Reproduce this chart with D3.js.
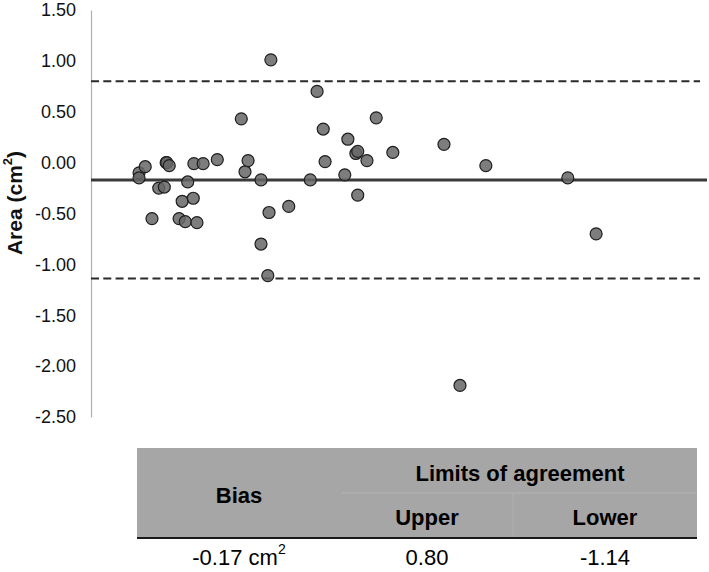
<!DOCTYPE html>
<html>
<head>
<meta charset="utf-8">
<script src="https://cdn.jsdelivr.net/npm/d3@7"></script>
<style>
  body { margin: 0; background: #fff; }
  svg text { font-family: "Liberation Sans", Arial, sans-serif; }
</style>
</head>
<body>
<div id="chart"></div>
<script>
// mean of the two measurements (x) and their difference in cm2 (y)
var meanVals = [0.78, 0.88, 0.78, 0.99, 1.10, 1.19, 1.22, 1.23, 1.27, 1.43,
  1.48, 1.53, 1.57, 1.66, 1.67, 1.72, 1.82, 2.05, 2.44, 2.50,
  2.55, 2.76, 2.76, 2.87, 2.89, 2.92, 3.21, 3.56, 3.67, 3.77,
  3.80, 4.12, 4.17, 4.30, 4.33, 4.33, 4.48, 4.63, 4.90, 5.73,
  5.99, 6.41, 7.74, 8.20];
var diffVals = [-0.10, -0.04, -0.15, -0.55, -0.25, -0.24, 0.00, 0.00, -0.03, -0.55,
  -0.38, -0.58, -0.19, -0.35, -0.01, -0.59, -0.01, 0.03, 0.43, -0.09,
  0.02, -0.17, -0.80, -1.11, -0.49, 1.01, -0.43, -0.17, 0.70, 0.33,
  0.01, -0.12, 0.23, 0.09, 0.11, -0.32, 0.02, 0.44, 0.10, 0.18,
  -2.19, -0.03, -0.15, -0.70];

var yTicks = [1.5, 1.0, 0.5, 0.0, -0.5, -1.0, -1.5, -2.0, -2.5];
var statNames = ["Bias", "Upper", "Lower"];
var statVals = [-0.17, 0.80, -1.14];

var width = 709, height = 572;
var svg = d3.select("#chart").append("svg")
  .attr("width", width)
  .attr("height", height);

var x = d3.scaleLinear().domain([0, 10]).range([91, 707]);
var y = d3.scaleLinear().domain([-2.5, 1.5]).range([417, 10]);

// y axis, no tick marks
var yAxis = svg.append("g")
  .attr("transform", "translate(" + x(0) + ",0)")
  .call(d3.axisLeft(y).tickValues(yTicks).tickSize(0).tickPadding(15)
    .tickFormat(function(d){ return d.toFixed(2); }));
yAxis.select(".domain").attr("stroke", "#b0b0b0").attr("stroke-width", 1.2);
yAxis.selectAll("text").attr("font-size", 18).attr("fill", "#111");

svg.append("text")
  .attr("transform", "translate(16,203) rotate(-90)")
  .attr("text-anchor", "middle")
  .attr("dominant-baseline", "middle")
  .attr("font-size", 21)
  .attr("font-weight", "bold")
  .attr("fill", "#111")
  .html('Area (cm<tspan dy="-7" font-size="13">2</tspan><tspan dy="7">)</tspan>');

// limits of agreement and bias lines
svg.append("line")
  .attr("x1", x(0)).attr("x2", 700)
  .attr("y1", y(statVals[1])).attr("y2", y(statVals[1]))
  .attr("stroke", "#2a2a2a").attr("stroke-width", 2)
  .attr("stroke-dasharray", "8,4.3");
svg.append("line")
  .attr("x1", x(0)).attr("x2", 700)
  .attr("y1", y(statVals[2])).attr("y2", y(statVals[2]))
  .attr("stroke", "#2a2a2a").attr("stroke-width", 2)
  .attr("stroke-dasharray", "8,4.3");
svg.append("line")
  .attr("x1", x(0)).attr("x2", x(10))
  .attr("y1", y(statVals[0])).attr("y2", y(statVals[0]))
  .attr("stroke", "#3a3a3a").attr("stroke-width", 3);

// points
svg.append("g").selectAll("circle")
  .data(d3.range(meanVals.length))
  .enter().append("circle")
  .attr("cx", function(i){ return x(meanVals[i]); })
  .attr("cy", function(i){ return y(diffVals[i]); })
  .attr("r", 6)
  .attr("fill", "#666")
  .attr("fill-opacity", 0.85)
  .attr("stroke", "#1e1e1e")
  .attr("stroke-width", 1.2);

// summary table
var tbl = svg.append("g");
tbl.append("rect")
  .attr("x", 137).attr("y", 448)
  .attr("width", 560).attr("height", 90)
  .attr("fill", "#a6a6a6");
tbl.append("line")
  .attr("x1", 342).attr("x2", 697).attr("y1", 493).attr("y2", 493)
  .attr("stroke", "#b4b4b4").attr("stroke-width", 1);
tbl.append("line")
  .attr("x1", 513).attr("x2", 513).attr("y1", 493).attr("y2", 537)
  .attr("stroke", "#b0b0b0").attr("stroke-width", 1);
tbl.append("line")
  .attr("x1", 137).attr("x2", 697).attr("y1", 538).attr("y2", 538)
  .attr("stroke", "#1a1a1a").attr("stroke-width", 2);

var colX = [239, 427, 605];
function cell(cx, cy, txt, bold) {
  return tbl.append("text")
    .attr("x", cx).attr("y", cy)
    .attr("text-anchor", "middle")
    .attr("dominant-baseline", "central")
    .attr("font-size", 22)
    .attr("font-weight", bold ? "bold" : "normal")
    .attr("fill", "#000")
    .text(txt);
}
cell(colX[0], 495, statNames[0], true);
cell(520, 473, "Limits of agreement", true);
cell(colX[1], 517, statNames[1], true);
cell(colX[2], 517, statNames[2], true);

var biasTxt = cell(colX[0], 557, statVals[0].toFixed(2) + " cm", false);
biasTxt.append("tspan").attr("dy", -8).attr("font-size", 14).text("2");
cell(colX[1], 557, statVals[1].toFixed(2), false);
cell(colX[2], 557, statVals[2].toFixed(2), false);
</script>
</body>
</html>
